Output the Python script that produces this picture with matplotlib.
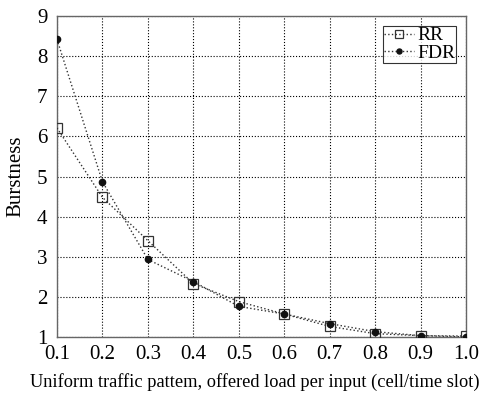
import matplotlib
matplotlib.use("Agg")
import matplotlib.pyplot as plt

load = [0.1, 0.2, 0.3, 0.4, 0.5, 0.6, 0.7, 0.8, 0.9, 1.0]
rr = [6.21, 4.48, 3.40, 2.33, 1.88, 1.57, 1.26, 1.08, 1.03, 1.02]
fdr = [8.42, 4.87, 2.93, 2.38, 1.76, 1.57, 1.33, 1.13, 1.03, 1.00]
xticks = [0.1, 0.2, 0.3, 0.4, 0.5, 0.6, 0.7, 0.8, 0.9, 1.0]
xticklabels = ["0.1", "0.2", "0.3", "0.4", "0.5", "0.6", "0.7", "0.8", "0.9", "1.0"]
yticks = [1, 2, 3, 4, 5, 6, 7, 8, 9]

plt.rcParams['font.family'] = ['Liberation Serif', 'DejaVu Serif']

fig = plt.figure(figsize=(4.83, 3.94), dpi=100)
ax = fig.add_axes([0.118, 0.145, 0.847, 0.814])

ax.plot(load, rr, linestyle=':', color='#333333', linewidth=1.0, marker='s',
        markersize=7, markerfacecolor='none', markeredgecolor='#333333',
        markeredgewidth=0.9, label='RR', zorder=3)
ax.plot(load, fdr, linestyle=':', color='#333333', linewidth=1.0, marker='o',
        markersize=4.5, markerfacecolor='#111111', markeredgecolor='#111111',
        label='FDR', zorder=3)

ax.set_xlim(0.1, 1.0)
ax.set_ylim(1, 9)
ax.set_xticks(xticks)
ax.set_xticklabels(xticklabels)
ax.set_yticks(yticks)
ax.tick_params(labelsize=15, length=0)
ax.tick_params(axis='x', pad=6)
ax.tick_params(axis='y', pad=7)
ax.grid(True, linestyle=':', color='black', linewidth=0.8)
for s in ax.spines.values():
    s.set_color('#666666')
    s.set_linewidth(1.0)

fig.text(254.5 / 483, 1 - 382 / 394,
         'Uniform traffic pattem, offered load per input (cell/time slot)',
         fontsize=13.2, ha='center', va='center')
ax.set_ylabel('Burstness', fontsize=15, labelpad=8)

leg = ax.legend(loc='upper right', fontsize=14, frameon=True, fancybox=False,
                handlelength=1.5, handletextpad=0.2, borderpad=0.05,
                labelspacing=0.0, borderaxespad=0.5, markerscale=0.8)
leg.get_frame().set_edgecolor('black')
leg.get_frame().set_linewidth(0.8)

fig.savefig('out.png', dpi=100)
